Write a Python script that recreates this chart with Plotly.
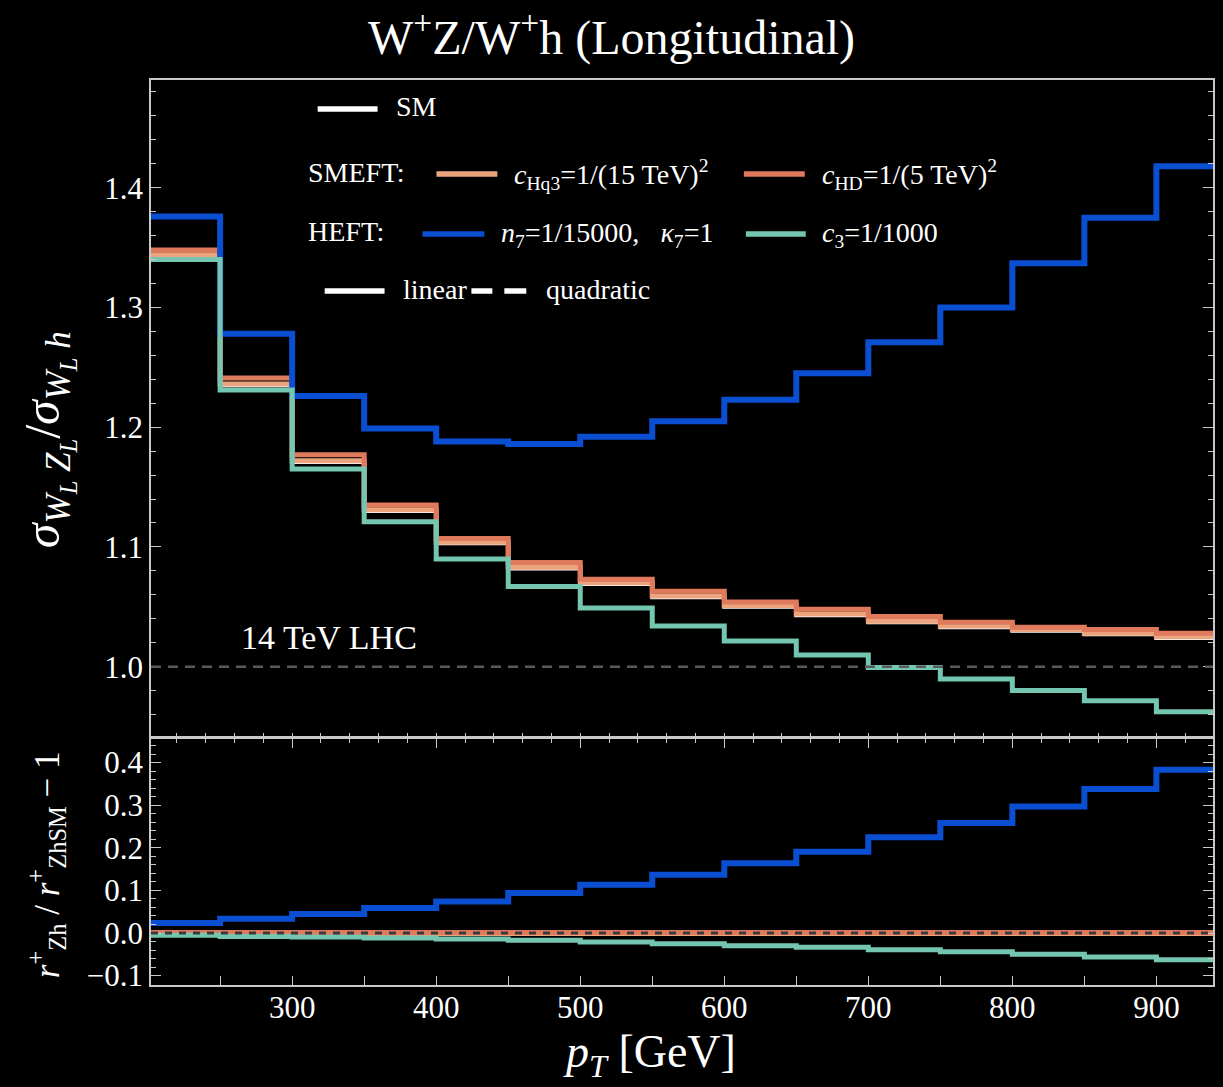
import plotly.graph_objects as go

# ---------------- data ----------------
bin_edges = [200, 250, 300, 350, 400, 450, 500, 550, 600, 650, 700, 750, 800, 850, 900, 950]

# upper panel: sigma(W_L Z_L) / sigma(W_L h)
ratio_sm    = [1.343, 1.235, 1.171, 1.130, 1.103, 1.082, 1.069, 1.058, 1.050, 1.043, 1.037, 1.033, 1.030, 1.027, 1.024]
ratio_chq3  = [1.344, 1.236, 1.172, 1.131, 1.104, 1.083, 1.070, 1.059, 1.051, 1.044, 1.038, 1.034, 1.031, 1.028, 1.025]
ratio_chd   = [1.348, 1.241, 1.177, 1.135, 1.107, 1.087, 1.073, 1.063, 1.054, 1.048, 1.042, 1.037, 1.033, 1.031, 1.028]
ratio_n7    = [1.376, 1.278, 1.226, 1.199, 1.188, 1.186, 1.192, 1.205, 1.223, 1.245, 1.271, 1.300, 1.337, 1.375, 1.418]
ratio_c3    = [1.340, 1.231, 1.165, 1.121, 1.090, 1.067, 1.049, 1.034, 1.0215, 1.0098, 0.9993, 0.9896, 0.980, 0.9715, 0.9623]

# lower panel: r+_Zh / r+_ZhSM - 1
dev_sm   = [0.0] * 15
dev_chq3 = [-0.001, -0.001, -0.001, -0.001, -0.001, -0.001, -0.001, -0.001, -0.001, -0.001, -0.001, -0.001, -0.001, -0.001, -0.001]
dev_chd  = [0.001, 0.001, 0.001, 0.001, 0.001, 0.001, 0.001, 0.001, 0.001, 0.001, 0.001, 0.001, 0.001, 0.001, 0.001]
dev_n7   = [0.0234, 0.0335, 0.0445, 0.0586, 0.074, 0.0937, 0.113, 0.1367, 0.164, 0.191, 0.225, 0.258, 0.297, 0.338, 0.383]
dev_c3   = [-0.0055, -0.008, -0.0095, -0.0117, -0.014, -0.017, -0.021, -0.025, -0.0297, -0.0336, -0.039, -0.044, -0.050, -0.056, -0.0625]

x_ticks = [300, 400, 500, 600, 700, 800, 900]

# ---------------- style ----------------
FONT = "Liberation Serif"
C_SM = "#FFFFFF"
C_HQ3 = "#EBA47E"
C_HD = "#E07A5C"
C_N7 = "#0A4FD2"
C_C3 = "#74C6B0"
FRAME = "#C8C8C8"

def step(vals):
    return vals + [vals[-1]]

fig = go.Figure()

series_top = [(ratio_sm, C_SM, 4), (ratio_chq3, C_HQ3, 5), (ratio_chd, C_HD, 5),
              (ratio_n7, C_N7, 6), (ratio_c3, C_C3, 5)]
series_bot = [(dev_sm, C_SM, 4), (dev_chq3, C_HQ3, 5), (dev_chd, C_HD, 5),
              (dev_n7, C_N7, 6), (dev_c3, C_C3, 5)]

for vals, col, w in series_top:
    fig.add_trace(go.Scatter(x=bin_edges, y=step(vals), mode="lines", line_shape="hv",
                             line=dict(color=col, width=w), xaxis="x", yaxis="y",
                             showlegend=False, hoverinfo="skip"))
for vals, col, w in series_bot:
    fig.add_trace(go.Scatter(x=bin_edges, y=step(vals), mode="lines", line_shape="hv",
                             line=dict(color=col, width=w), xaxis="x2", yaxis="y2",
                             showlegend=False, hoverinfo="skip"))

XR = [202, 939.3]
tickfont = dict(family=FONT, size=31, color="white")

fig.update_layout(
    width=1223, height=1087,
    paper_bgcolor="black", plot_bgcolor="black",
    margin=dict(l=151, r=8, t=80, b=102),
    font=dict(family=FONT, color="white"),
    xaxis=dict(domain=[0, 1], anchor="y", range=XR, showgrid=False, zeroline=False,
               showline=True, linecolor=FRAME, linewidth=1.5, mirror=True,
               ticks="inside", tick0=0, dtick=20, ticklen=5, tickcolor=FRAME,
               showticklabels=False),
    yaxis=dict(domain=[0.2737, 1], anchor="x", range=[0.941, 1.49], showgrid=False,
               zeroline=False, showline=True, linecolor=FRAME, linewidth=1.5,
               mirror="ticks", ticks="inside", tick0=1.0, dtick=0.1, ticklen=10,
               tickcolor=FRAME, tickformat=".1f", tickfont=tickfont,
               minor=dict(dtick=0.02, ticklen=5, ticks="inside", tickcolor=FRAME)),
    xaxis2=dict(domain=[0, 1], anchor="y2", range=XR, showgrid=False, zeroline=False,
                showline=True, linecolor=FRAME, linewidth=1.5, mirror=True,
                ticks="inside", tickvals=x_ticks, ticklen=9, tickcolor=FRAME,
                tickfont=tickfont, ticklabelstandoff=-6,
                minor=dict(dtick=50, tick0=0, ticklen=9, ticks="inside", tickcolor=FRAME)),
    xaxis3=dict(overlaying="x2", anchor="y2", side="top", range=XR, showgrid=False,
                zeroline=False, showline=False, ticks="inside", tick0=0, dtick=100,
                ticklen=10, tickcolor=FRAME, showticklabels=False,
                minor=dict(dtick=20, ticklen=5, ticks="inside", tickcolor=FRAME)),
    yaxis2=dict(domain=[0, 0.2726], anchor="x2", range=[-0.122, 0.457], showgrid=False,
                zeroline=False, showline=True, linecolor=FRAME, linewidth=1.5,
                mirror="ticks", ticks="inside", tick0=0, dtick=0.1, ticklen=10,
                tickcolor=FRAME, tickformat=".1f", tickfont=tickfont,
                minor=dict(dtick=0.02, ticklen=5, ticks="inside", tickcolor=FRAME)),
    showlegend=False,
)

# reference dashed lines
fig.add_shape(type="line", xref="x domain", yref="y", x0=0, x1=1, y0=1.0, y1=1.0,
              line=dict(color="#5a5a5a", width=2.5, dash="10px,7px"), layer="above")
fig.add_shape(type="line", xref="x2 domain", yref="y2", x0=0, x1=1, y0=0.0, y1=0.0,
              line=dict(color="#3a3a3a", width=3, dash="7px,7px"), layer="above")

# invisible trace to make xaxis3 render
fig.add_trace(go.Scatter(x=[bin_edges[0]], y=[dev_sm[0]], xaxis="x3", yaxis="y2",
                         mode="markers", marker=dict(opacity=0), showlegend=False,
                         hoverinfo="skip"))

# title
fig.add_annotation(text="W<sup>+</sup>Z/W<sup>+</sup>h (Longitudinal)", xref="paper", yref="paper",
                   x=(612-151)/1064, y=(985-34)/905, xanchor="center", yanchor="middle",
                   showarrow=False, font=dict(family=FONT, size=48, color="white"))

# axis titles
fig.add_annotation(text="<i>σ</i><sub><i>W</i><sub><i>L</i></sub> <i>Z</i><sub><i>L</i></sub></sub>/<i>σ</i><sub><i>W</i><sub><i>L</i></sub> <i>h</i></sub>",
                   xref="paper", yref="paper", x=(48-151)/1064, y=(985-440)/905,
                   xanchor="center", yanchor="middle", textangle=-90, showarrow=False,
                   font=dict(family=FONT, size=50, color="white"))
fig.add_annotation(text="<i>r</i><sup>+</sup><sub>Zh</sub> / <i>r</i><sup>+</sup><sub>ZhSM</sub> − 1",
                   xref="paper", yref="paper", x=(46-151)/1064, y=(985-865)/905,
                   xanchor="center", yanchor="middle", textangle=-90, showarrow=False,
                   font=dict(family=FONT, size=35, color="white"))
fig.add_annotation(text="<i>p<sub>T</sub></i> [GeV]", xref="paper", yref="paper",
                   x=(650-151)/1064, y=(985-1055)/905, xanchor="center", yanchor="middle",
                   showarrow=False, font=dict(family=FONT, size=46, color="white"))

# 14 TeV LHC
fig.add_annotation(text="14 TeV LHC", xref="paper", yref="paper",
                   x=(239-151)/1064, y=(985-638)/905, xanchor="left", yanchor="middle",
                   showarrow=False, font=dict(family=FONT, size=34, color="white"))

# ---------- custom legend ----------
def px_x(p):
    return (p - 151) / 1064

def px_y(p):
    return (985 - p) / 905

LF = dict(family=FONT, size=28, color="white")

def leg_line(x0, x1, yy, col, dash="solid"):
    fig.add_shape(type="line", xref="paper", yref="paper", x0=px_x(x0), x1=px_x(x1),
                  y0=px_y(yy), y1=px_y(yy), line=dict(color=col, width=5.5, dash=dash))

def leg_text(x0, yy, txt):
    fig.add_annotation(text=txt, xref="paper", yref="paper", x=px_x(x0), y=px_y(yy),
                       xanchor="left", yanchor="middle", showarrow=False, font=LF)

leg_line(318, 378, 109, C_SM)
leg_text(394, 107, "SM")

leg_text(306, 172, "SMEFT:")
leg_line(437, 498, 174, C_HQ3)
leg_text(513, 174, "<i>c</i><sub>Hq3</sub>=1/(15 TeV)<sup>2</sup>")
leg_line(745, 806, 174, C_HD)
leg_text(821, 174, "<i>c</i><sub>HD</sub>=1/(5 TeV)<sup>2</sup>")

leg_text(306, 232, "HEFT:")
leg_line(423, 485, 234, C_N7)
leg_text(500, 234, "<i>n</i><sub>7</sub>=1/15000,   <i>κ</i><sub>7</sub>=1")
leg_line(747, 807, 234, C_C3)
leg_text(821, 234, "<i>c</i><sub>3</sub>=1/1000")

leg_line(325, 385, 291, C_SM)
leg_text(401, 289, "linear")
leg_line(472, 493, 291, C_SM)
leg_line(505, 527, 291, C_SM)
leg_text(545, 289, "quadratic")

fig.write_html("out.html")
